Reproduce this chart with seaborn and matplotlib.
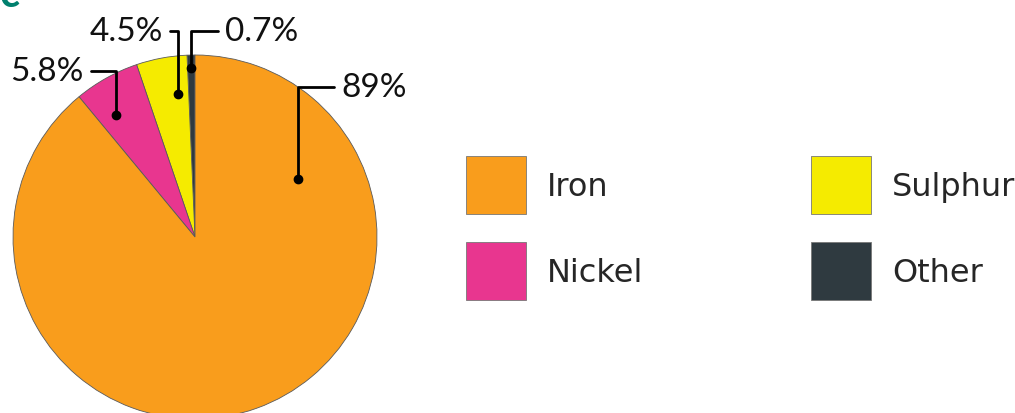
import numpy as np
import seaborn as sb
import matplotlib.pyplot as plt
from matplotlib.patches import Patch

sb.set_style("white")
plt.rcParams["font.family"] = ["Lato", "DejaVu Sans"]

# core composition, drawn counter-clockwise from 12 o'clock
elements = ["Other", "Sulphur", "Nickel", "Iron"]
shares = [0.7, 4.5, 5.8, 89]
share_labels = ["0.7%", "4.5%", "5.8%", "89%"]
colors = ["#2F3A40", "#F5EB00", "#E8368F", "#F99D1C"]

legend_order = ["Iron", "Nickel", "Sulphur", "Other"]

fig = plt.figure(figsize=(10.15, 4.14), dpi=100)
ax = fig.add_axes([13 / 1015, -6 / 414, 364 / 1015, 364 / 414])

wedges, _ = ax.pie(
    shares,
    colors=colors,
    startangle=90,
    counterclock=True,
    wedgeprops=dict(edgecolor="#5a5a5a", linewidth=0.6),
)
ax.set_xlim(-1, 1)
ax.set_ylim(-1, 1)
ax.set_aspect("equal")
ax.axis("off")

# label layout: where inside each wedge the dot sits, and where the text goes
anchor_frac = [0.5, 0.26, 0.68, 0.81]
anchor_r = [0.93, 0.79, 0.80, 0.65]
text_pos = [(0.165, 1.13, "left"), (-0.176, 1.13, "right"),
            (-0.615, 0.912, "right"), (0.802, 0.824, "left")]

for w, frac, r, (tx, ty, ha), lab in zip(wedges, anchor_frac, anchor_r, text_pos, share_labels):
    ang = np.deg2rad(w.theta1 + frac * (w.theta2 - w.theta1))
    px, py = r * np.cos(ang), r * np.sin(ang)
    ax.plot(px, py, "o", color="black", ms=6, clip_on=False, zorder=5)
    ax.annotate(
        lab,
        xy=(px, py),
        xytext=(tx, ty),
        ha=ha,
        va="center",
        fontsize=24,
        color="#111111",
        annotation_clip=False,
        arrowprops=dict(
            arrowstyle="-",
            color="black",
            lw=2,
            shrinkA=3,
            shrinkB=0,
            connectionstyle="angle,angleA=0,angleB=90,rad=0",
        ),
    )

handles = [
    Patch(facecolor=colors[elements.index(e)], edgecolor="#777777", linewidth=0.6)
    for e in legend_order
]
fig.legend(
    handles,
    legend_order,
    ncol=2,
    loc="center left",
    bbox_to_anchor=(444 / 1015, 1 - 229 / 414),
    frameon=False,
    prop={"family": "DejaVu Sans", "size": 23},
    handlelength=1.88,
    handleheight=2.41,
    handletextpad=0.65,
    labelspacing=0.9,
    columnspacing=5.25,
    borderpad=0.2,
)

# cropped title fragment at the top-left corner
fig.text(0.0, 1 - 7 / 414, "c", color="#00806E", fontsize=30,
         fontweight="bold", ha="left", va="baseline")

fig.savefig("out.png", dpi=100)
